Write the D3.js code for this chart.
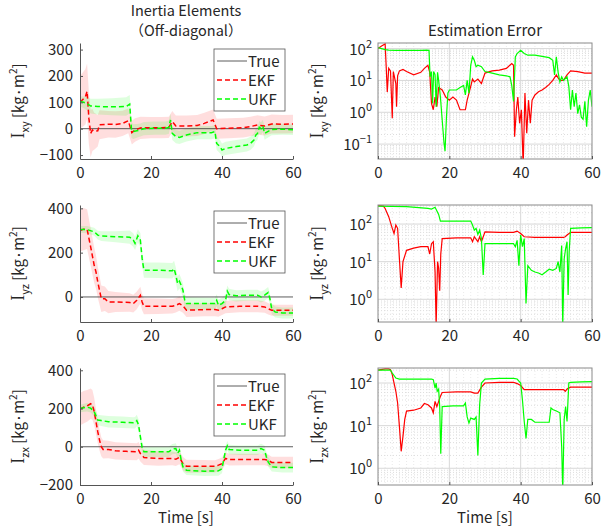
<!DOCTYPE html>
<html>
<head>
<meta charset="utf-8">
<script src="https://cdn.jsdelivr.net/npm/d3@7"></script>
<style>
body { margin: 0; background: #fff; }
text { font-family: "Noto Sans CJK JP", "Noto Sans", sans-serif; fill: #262626; }
</style>
</head>
<body>
<svg id="chart" width="603" height="530"></svg>
<script>

// ---- data: estimates are [t, value, band half width], errors are [t, |error|]
let timeTicks = [0, 20, 40, 60]
let seriesNames = ["True", "EKF", "UKF"]

let xyEkf = [[0,100,100],[1.5,120,105],[2,142,105],[2.5,40,100],[3,-18,90],[3.5,-5,80],[4,-10,70],[5,-8,60],[5.5,15,55],[8,17,50],[10,16,50],[12,20,48],[13.6,30,47],[14.6,-15,45],[15.5,-5,45],[17,3,42],[20,4,40],[23,4,40],[25,5,40],[26,27,40],[27,10,40],[30,10,40],[33,12,40],[35,20,40],[37.5,33,40],[38.5,0,38],[42,2,38],[46,4,37],[48,8,37],[50,14,37],[52,10,36],[54,18,36],[57,17,35],[60,18,35]]
let xyUkf = [[0,103,20],[1,100,22],[2,95,25],[3,86,28],[5,84,30],[9,83,32],[13,84,35],[14,93,35],[14.5,-5,30],[15,-11,28],[16,-8,26],[17,-5,25],[18,0,25],[21,2,25],[24,2,25],[25,5,25],[25.5,33,25],[26,-18,25],[27,-30,25],[28,-33,25],[30,-24,25],[33,-15,25],[37,-15,25],[38,-11,25],[38.5,-56,25],[39.5,-69,25],[40,-81,25],[41,-75,25],[44,-68,25],[47,-62,25],[48,-56,25],[49,-43,25],[49.5,-25,25],[50,-18,25],[50.5,5,24],[51,0,24],[51.5,10,24],[52,-18,24],[53,-10,23],[54,-3,22],[57,-2,21],[60,-4,20]]
let xyEkfErr = [[0,100],[1,120],[2,140],[2.3,27],[2.6,4.3],[3,24],[3.5,20],[4,0.65],[4.3,19],[5,8],[5.2,1.5],[5.5,14],[6,20],[7,22],[8,19],[10,15],[12,18],[13,24],[14,30],[14.5,18],[15,1.9],[15.5,1.2],[16,3],[16.5,1.5],[17,6],[17.5,5.5],[18,5],[19,3],[20,2.4],[21,3],[22,2.4],[23,1.2],[24.5,1.2],[25,2.4],[26,6.5],[26.5,11],[27,9],[28,11],[29,8],[30,17],[32,20],[34,21],[36,24],[37.5,34],[38,30],[38.3,0.17],[38.8,1.2],[39.2,3],[39.7,0.45],[40.2,1.2],[40.7,0.02],[41.2,4],[41.7,0.22],[42.2,2.4],[42.7,0.45],[43.2,2.4],[44,3.5],[45,4.4],[46,5],[47,6],[48,7.5],[49,10],[50,15],[50.5,12],[51,10],[52,10],[53,15],[54,20],[56,19],[58,17],[60,17]]
let xyUkfErr = [[0,108],[1,100],[2,93],[3,89],[5,88],[8,88],[12,88],[13.5,90],[14.3,88],[14.6,13],[15,19],[15.3,1.9],[15.6,19],[16,15],[16.3,1.5],[16.7,18],[17,10],[17.5,3],[18,0.57],[18.5,0.11],[18.8,0.06],[19.2,0.73],[19.6,4],[20,5],[22,5],[23,6],[24,7],[24.5,3.5],[25,10],[25.5,4],[26,30],[26.5,55],[27,43],[27.5,27],[28,30],[29,27],[30,19],[32,17],[34,15],[36,14],[37,13],[37.5,7],[38,2.2],[38.5,55],[39,70],[40,88],[41,70],[42,62],[44,62],[46,57],[48,52],[49,43],[49.5,15],[50,55],[50.5,18],[51,9],[51.5,13],[52,10],[53,13],[53.5,6.5],[54,1.2],[54.5,5],[55,1.5],[55.5,4],[56,0.9],[56.5,1.7],[57,0.7],[57.5,0.6],[58,2.2],[58.5,0.35],[59,2.4],[59.5,5],[60,1.5]]

let yzEkf = [[0,300,95],[1,306,95],[2,306,90],[3,226,85],[4,143,80],[4.5,113,75],[5,68,70],[5.5,30,65],[6,-8,60],[7,-8,55],[8,-23,50],[10,-23,45],[14,-25,42],[15,-30,40],[16,-15,40],[17,8,38],[17.5,-23,37],[18,-42,36],[22,-42,35],[26,-42,33],[27,-38,32],[28,-30,32],[29,-40,31],[30,-60,30],[35,-57,30],[38,-57,30],[39,-60,29],[40,-53,28],[41,-45,28],[45,-42,27],[50,-42,27],[52,-45,26],[53,-53,26],[54,-60,25],[60,-60,25]]
let yzUkf = [[0,305,15],[2,304,16],[4,294,18],[5,279,20],[6,275,22],[10,272,25],[14,270,30],[15,257,30],[15.5,242,30],[16.3,276,30],[17,257,32],[17.5,174,33],[18,121,34],[22,121,35],[26,118,35],[26.5,128,35],[27,98,35],[27.5,60,34],[28,71,33],[28.5,53,32],[29,30,31],[29.5,-15,30],[30,-30,30],[35,-30,28],[38,-30,27],[38.5,-15,27],[39,-38,27],[40,-30,26],[41,-15,26],[41.5,26,26],[42,11,26],[44,5,25],[47,8,25],[50,8,25],[51,0,25],[52,8,25],[53,20,25],[53.5,-8,25],[54,-53,25],[55,-68,25],[57,-72,25],[60,-72,25]]
let yzEkfErr = [[0,310],[1.5,300],[2,260],[3,157],[4,77],[4.5,56],[5,94],[5.5,77],[6,12],[6.5,2],[7,10],[8,20],[10,23],[12,25],[14,25],[14.5,16],[15,30],[15.5,34],[16,5.3],[16.3,0.2],[16.7,10],[17,6.7],[17.3,1.7],[17.6,16],[18,41],[22,43],[26,43],[26.5,34],[27,46],[28,34],[28.5,46],[29,34],[30,62],[34,60],[38,60],[39,65],[40,56],[41,46],[44,44],[48,44],[52,44],[52.5,46],[53,51],[54,60],[57,60],[60,60]]
let yzUkfErr = [[0,300],[8,290],[14,262],[15,250],[16,280],[17,180],[17.5,120],[22,120],[26,120],[26.5,94],[27,69],[27.5,77],[28,53],[28.5,69],[29,41],[29.5,4.4],[30,30],[34,30],[38,30],[38.5,25],[39,37],[39.5,7.8],[40,51],[40.5,25],[41,41],[41.5,0.77],[42,7.8],[43,5.9],[44,5.3],[45,5],[46,4.5],[47,5.3],[48,6.3],[49,5.9],[50,6.6],[50.5,10],[51,5.3],[51.5,27],[51.8,0.2],[52.2,12],[52.6,22],[53,34],[53.3,1.3],[53.6,18],[54,77],[57,79],[60,80]]

let zxEkf = [[0,196,85],[1,207,85],[2,214,83],[3,225,80],[3.5,219,78],[4,184,72],[4.5,132,66],[5,79,60],[5.5,35,55],[6,0,50],[6.5,-14,48],[8,-14,46],[10,-21,45],[13,-24,45],[16,-26,44],[16.5,-18,43],[17,-35,42],[18,-56,40],[22,-61,38],[26,-61,36],[27,-65,36],[28,-56,35],[29,-88,35],[30,-102,34],[35,-102,33],[38,-102,32],[39,-96,32],[40,-88,32],[41,-61,31],[42,-67,31],[47,-67,30],[52,-67,30],[53,-70,30],[54,-82,30],[60,-82,30]]
let zxUkf = [[0,200,20],[2,207,22],[3,202,23],[4,184,25],[5,140,27],[6,137,28],[8,131,30],[12,128,30],[15,125,30],[15.5,126,30],[16,137,30],[16.5,114,30],[17,53,30],[17.5,-4,29],[18,-26,28],[22,-26,27],[25,-26,27],[26,-12,27],[27,-9,27],[27.5,-35,27],[28,-18,26],[28.5,-70,26],[29,-105,26],[30,-123,25],[35,-128,25],[39,-126,25],[40,-114,25],[41,-18,25],[41.5,5,25],[42,-14,25],[45,-18,25],[50,-18,25],[51,-9,25],[52,-18,25],[52.5,-53,25],[53,-79,25],[54,-105,25],[57,-109,25],[60,-109,25]]
let zxEkfErr = [[0,200],[2,214],[3,214],[3.5,206],[4,157],[4.5,100],[5,64],[5.5,34],[6,9.6],[6.5,2.5],[7,5.6],[7.5,14],[8,22],[10,23],[12,26],[13,33],[14,31],[15,26],[15.5,20],[16,37],[16.5,28],[17,37],[17.5,49],[18,60],[22,62],[26,62],[27,58],[28,58],[29,80],[30,100],[34,104],[38,104],[39,97],[40,87],[41,70],[46,70],[52,70],[52.5,64],[53,72],[54,80],[57,80],[60,80]]
let zxUkfErr = [[0,200],[3.5,200],[4,172],[5,131],[6,124],[10,124],[15,124],[15.5,120],[16,76],[16.3,100],[16.6,64],[17,72],[17.3,28],[17.6,2.2],[18,28],[21,29],[24,29],[24.5,34],[25,16],[25.5,11.5],[26,15],[27,14],[27.5,16],[28,2],[28.5,31],[29,100],[30,124],[34,128],[38,128],[39,124],[40,100],[40.5,40],[41,12.5],[41.5,5],[42,14],[43,14],[44,12],[48,12],[48.5,26],[49,24],[50,22],[51,20],[51.5,3.2],[51.8,0.3],[52.2,14],[52.6,28],[53,12.5],[53.5,100],[54,104],[57,106],[60,108]]

// ---- layout
let svg = d3.select('#chart')
let leftX = [80, 293], rightX = [378, 592]
let col = { ekf: "#ff0000", ukf: "#00ff00", ekfBand: "rgba(255,0,0,0.13)", ukfBand: "rgba(0,255,0,0.13)" }

let rows = [
  { sub: "xy", top: 43, bottom: 159, lin: [-115, 325], linTicks: [-100, 0, 100, 200, 300],
    log: [0.034, 150], logTicks: [-1, 0, 1, 2], legendY: 49,
    ekf: xyEkf, ukf: xyUkf, ekfErr: xyEkfErr, ukfErr: xyUkfErr },
  { sub: "yz", top: 205, bottom: 322, lin: [-113, 415], linTicks: [0, 200, 400],
    log: [0.249, 321], logTicks: [0, 1, 2], legendY: 211,
    ekf: yzEkf, ukf: yzUkf, ekfErr: yzEkfErr, ukfErr: yzUkfErr },
  { sub: "zx", top: 368, bottom: 485, lin: [-200, 412], linTicks: [-200, 0, 200, 400],
    log: [0.405, 225], logTicks: [0, 1, 2], legendY: 374,
    ekf: zxEkf, ukf: zxUkf, ekfErr: zxEkfErr, ukfErr: zxUkfErr }
]

function yLabel(cx, cy, sub) {
    let t = svg.append('text')
        .attr('transform', 'translate(' + cx + ',' + cy + ') rotate(-90)')
        .attr('text-anchor', 'middle')
        .style('font-size', '15px')
    t.append('tspan').text('I').style('font-family', '"Liberation Serif", serif').style('font-size', '18px')
    t.append('tspan').text(sub).attr('dy', 5).style('font-size', '11px')
    t.append('tspan').text(' [kg·m').attr('dy', -5)
    t.append('tspan').text('2').attr('dy', -7).style('font-size', '10px')
    t.append('tspan').text(']').attr('dy', 7)
}

function styleAxis(g) {
    g.select('.domain').attr('stroke', '#555').attr('stroke-width', 1)
    g.selectAll('.tick line').attr('stroke', '#555')
    g.selectAll('.tick text').style('font-size', '15px').attr('fill', '#262626')
}

function drawEstimate(row, i) {
    let x = d3.scaleLinear().domain([0, 60]).range(leftX)
    let y = d3.scaleLinear().domain(row.lin).range([row.bottom, row.top])

    let clipId = 'clipL' + i
    svg.append('clipPath').attr('id', clipId).append('rect')
        .attr('x', leftX[0]).attr('y', row.top)
        .attr('width', leftX[1] - leftX[0]).attr('height', row.bottom - row.top)

    let plot = svg.append('g').attr('clip-path', 'url(#' + clipId + ')')

    let band = d3.area()
        .x(d => x(d[0]))
        .y0(d => y(d[1] - d[2]))
        .y1(d => y(d[1] + d[2]))
    let line = d3.line().x(d => x(d[0])).y(d => y(d[1]))

    plot.append('path').attr('d', band(row.ekf)).attr('fill', col.ekfBand)
    plot.append('path').attr('d', band(row.ukf)).attr('fill', col.ukfBand)

    plot.append('line')
        .attr('x1', leftX[0]).attr('x2', leftX[1])
        .attr('y1', y(0)).attr('y2', y(0))
        .attr('stroke', '#333').attr('stroke-width', 0.8)

    plot.append('path').attr('d', line(row.ekf)).attr('fill', 'none')
        .attr('stroke', col.ekf).attr('stroke-width', 1.5).attr('stroke-dasharray', '5,3')
    plot.append('path').attr('d', line(row.ukf)).attr('fill', 'none')
        .attr('stroke', col.ukf).attr('stroke-width', 1.5).attr('stroke-dasharray', '5,3')

    svg.append('g').attr('transform', 'translate(' + leftX[0] + ',0)')
        .call(d3.axisLeft(y).tickValues(row.linTicks).tickSize(-3).tickSizeOuter(0).tickPadding(7).tickFormat(d3.format('d')))
        .call(styleAxis)
        .selectAll('.tick text').text(d => d < 0 ? '\u2212' + Math.abs(d) : d)

    svg.append('g').attr('transform', 'translate(0,' + row.bottom + ')')
        .call(d3.axisBottom(x).tickValues(timeTicks).tickSize(-3).tickSizeOuter(0).tickPadding(8))
        .call(styleAxis)

    // legend
    let lx = 214, ly = row.legendY
    let lg = svg.append('g')
    lg.append('rect').attr('x', lx).attr('y', ly).attr('width', 71).attr('height', 62)
        .attr('fill', '#fff').attr('stroke', '#555').attr('stroke-width', 0.8)
    let styles = [{ c: '#333', dash: null, w: 0.8 }, { c: col.ekf, dash: '5,3', w: 1.5 }, { c: col.ukf, dash: '5,3', w: 1.5 }]
    seriesNames.forEach((name, k) => {
        let yy = ly + 12 + k * 19
        lg.append('line').attr('x1', lx + 3).attr('x2', lx + 33).attr('y1', yy).attr('y2', yy)
            .attr('stroke', styles[k].c).attr('stroke-width', styles[k].w)
            .attr('stroke-dasharray', styles[k].dash)
        lg.append('text').attr('x', lx + 34).attr('y', yy + 5.5).style('font-size', '15px').text(name)
    })

    yLabel(24, (row.top + row.bottom) / 2, row.sub)
}

function drawError(row, i) {
    let x = d3.scaleLinear().domain([0, 60]).range(rightX)
    let y = d3.scaleLog().domain(row.log).range([row.bottom, row.top])

    let grid = svg.append('g')
    let lo = Math.floor(Math.log10(row.log[0])), hi = Math.ceil(Math.log10(row.log[1]))
    for (let e = lo; e <= hi; e++) {
        for (let m = 2; m <= 9; m++) {
            let v = m * Math.pow(10, e)
            if (v <= row.log[0] || v >= row.log[1]) continue
            grid.append('line').attr('x1', rightX[0]).attr('x2', rightX[1])
                .attr('y1', y(v)).attr('y2', y(v))
                .attr('stroke', '#cfcfcf').attr('stroke-width', 0.7).attr('stroke-dasharray', '1,2')
        }
    }
    for (let t = 2; t < 60; t += 2) {
        if (t % 20 === 0) continue
        grid.append('line').attr('y1', row.top).attr('y2', row.bottom)
            .attr('x1', x(t)).attr('x2', x(t))
            .attr('stroke', '#dcdcdc').attr('stroke-width', 0.6).attr('stroke-dasharray', '1,2')
    }
    row.logTicks.forEach(e => {
        grid.append('line').attr('x1', rightX[0]).attr('x2', rightX[1])
            .attr('y1', y(Math.pow(10, e))).attr('y2', y(Math.pow(10, e)))
            .attr('stroke', '#d8d8d8').attr('stroke-width', 1)
    })
    timeTicks.slice(1, -1).forEach(t => {
        grid.append('line').attr('y1', row.top).attr('y2', row.bottom)
            .attr('x1', x(t)).attr('x2', x(t))
            .attr('stroke', '#d8d8d8').attr('stroke-width', 1)
    })

    let clipId = 'clipR' + i
    svg.append('clipPath').attr('id', clipId).append('rect')
        .attr('x', rightX[0]).attr('y', row.top)
        .attr('width', rightX[1] - rightX[0]).attr('height', row.bottom - row.top)
    let plot = svg.append('g').attr('clip-path', 'url(#' + clipId + ')')
    let line = d3.line().x(d => x(d[0])).y(d => y(d[1]))

    plot.append('path').attr('d', line(row.ekfErr)).attr('fill', 'none')
        .attr('stroke', col.ekf).attr('stroke-width', 1.2)
    plot.append('path').attr('d', line(row.ukfErr)).attr('fill', 'none')
        .attr('stroke', col.ukf).attr('stroke-width', 1.2)

    svg.append('rect').attr('x', rightX[0]).attr('y', row.top)
        .attr('width', rightX[1] - rightX[0]).attr('height', row.bottom - row.top)
        .attr('fill', 'none').attr('stroke', '#8a8a8a').attr('stroke-width', 1)

    svg.append('g').attr('transform', 'translate(0,' + row.bottom + ')')
        .call(d3.axisBottom(x).tickValues(timeTicks).tickSize(-3).tickSizeOuter(0).tickPadding(8))
        .call(styleAxis)
        .select('.domain').attr('stroke', 'none')

    row.logTicks.forEach(e => {
        let t = svg.append('text').attr('x', rightX[0] - 6).attr('y', y(Math.pow(10, e)) + 6)
            .attr('text-anchor', 'end').style('font-size', '15px')
        t.append('tspan').text('10')
        t.append('tspan').text(e < 0 ? '\u2212' + Math.abs(e) : e).attr('dy', -7).style('font-size', '11px')
    })

    yLabel(323, (row.top + row.bottom) / 2, row.sub)
}

rows.forEach((row, i) => {
    drawEstimate(row, i)
    drawError(row, i)
})

// titles
svg.append('text').attr('x', 186).attr('y', 16).attr('text-anchor', 'middle').style('font-size', '14.5px').text('Inertia Elements')
svg.append('text').attr('x', 186).attr('y', 36).attr('text-anchor', 'middle').style('font-size', '14.5px').text('（Off-diagonal）')
svg.append('text').attr('x', 485).attr('y', 36).attr('text-anchor', 'middle').style('font-size', '15px').text('Estimation Error')
svg.append('text').attr('x', 186).attr('y', 523).attr('text-anchor', 'middle').style('font-size', '15px').text('Time [s]')
svg.append('text').attr('x', 485).attr('y', 523).attr('text-anchor', 'middle').style('font-size', '15px').text('Time [s]')

</script>
</body>
</html>
